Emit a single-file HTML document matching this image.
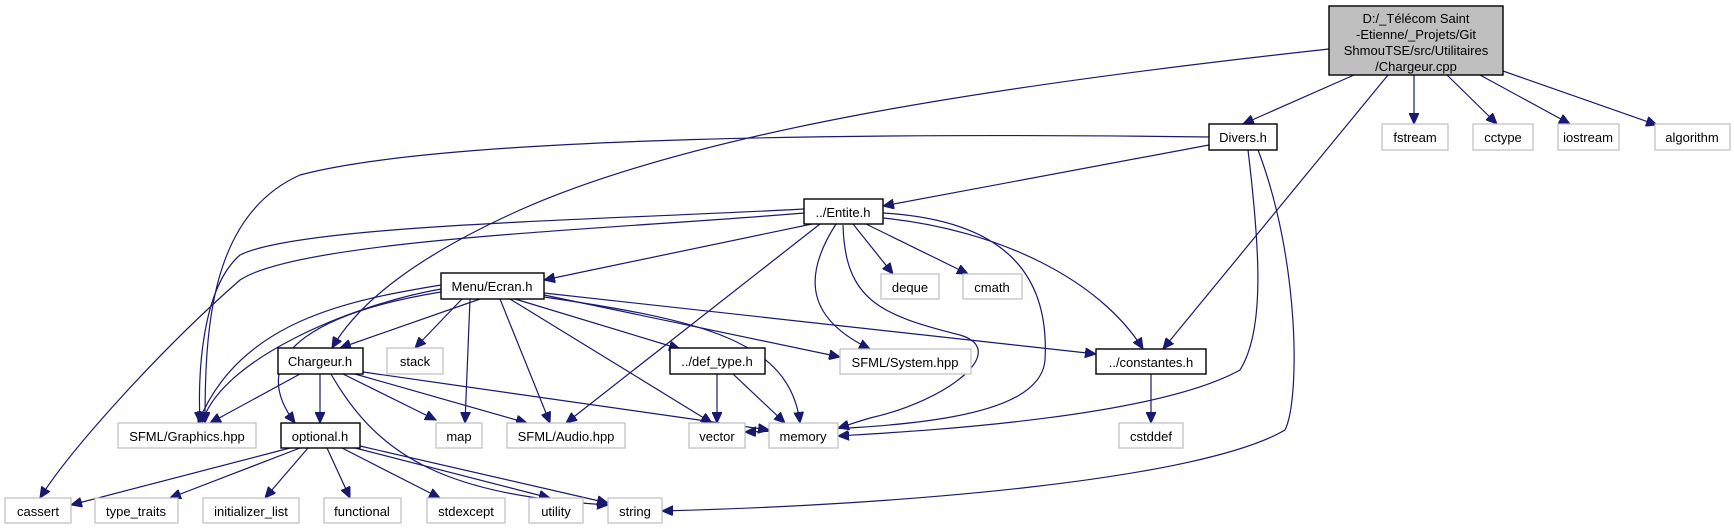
<!DOCTYPE html>
<html><head><meta charset="utf-8"><style>
html,body{margin:0;padding:0;background:#fff;}
svg{display:block}
text{font-family:"Liberation Sans",sans-serif;font-size:13px;fill:#000;}
.e{fill:none;stroke:#191970;stroke-width:1.2}
.n{fill:#fff;stroke:#000;stroke-width:1.4}
.g{fill:#fff;stroke:#bfbfbf;stroke-width:1.2}
</style></head><body>
<svg width="1734" height="529" viewBox="0 0 1734 529" xmlns="http://www.w3.org/2000/svg">
<defs><marker id="a" markerUnits="userSpaceOnUse" markerWidth="12" markerHeight="10" refX="11" refY="5" orient="auto"><path d="M0,0 L11,5 L0,10 z" fill="#191970" stroke="#191970"/></marker></defs>
<g class="e" marker-end="url(#a)">
<path d="M1354,75 L1243,124"/>
<path d="M1414,75 L1414,124"/>
<path d="M1447,75 L1497,124"/>
<path d="M1480,75 L1570,124"/>
<path d="M1503,71 L1657,125"/>
<path d="M1388,75 L1163,349"/>
<path d="M1329,49 C1000,85 700,130 520,210 C420,255 360,300 332,348"/>
<path d="M1209,145 L883,206"/>
<path d="M1209,137 C900,133 450,135 300,175 C210,215 205,330 205,423"/>
<path d="M1248,150 C1260,250 1265,330 1240,370 C1150,420 900,432 838,436"/>
<path d="M1258,150 C1300,260 1300,400 1285,430 C1200,480 900,505 662,511"/>
<path d="M812,224 L544,280"/>
<path d="M804,209 C600,220 300,225 240,255 C200,290 198,380 200,423"/>
<path d="M804,213 C600,230 300,240 240,280 C160,350 70,450 40,498"/>
<path d="M853,224 L893,274"/>
<path d="M866,224 L968,274"/>
<path d="M836,224 C800,280 810,320 870,349"/>
<path d="M843,225 C845,300 880,315 960,335 C1010,350 950,400 870,418 C850,424 845,426 838,428"/>
<path d="M883,213 C1000,220 1050,270 1045,360 C1040,420 900,428 745,432"/>
<path d="M883,218 C1000,230 1100,280 1143,349"/>
<path d="M820,224 L566,423"/>
<path d="M480,299 L340,348"/>
<path d="M462,299 L415,348"/>
<path d="M470,299 L465,423"/>
<path d="M500,299 L550,423"/>
<path d="M510,299 L712,423"/>
<path d="M515,299 L680,349"/>
<path d="M544,295 L840,357"/>
<path d="M544,293 L1096,354"/>
<path d="M544,297 C700,320 790,340 800,423"/>
<path d="M441,285 C350,300 240,320 198,423"/>
<path d="M441,289 C350,305 220,360 202,423"/>
<path d="M441,292 C330,310 240,350 295,423"/>
<path d="M300,374 L210,423"/>
<path d="M320,374 L320,423"/>
<path d="M343,374 L436,420"/>
<path d="M355,374 L527,423"/>
<path d="M363,372 L769,430"/>
<path d="M331,374 C380,460 450,495 608,505"/>
<path d="M717,374 L717,423"/>
<path d="M733,374 L785,423"/>
<path d="M1151,374 L1151,423"/>
<path d="M290,448 L71,505"/>
<path d="M300,448 L170,498"/>
<path d="M308,448 L265,498"/>
<path d="M327,448 L350,498"/>
<path d="M342,448 L440,498"/>
<path d="M355,448 L550,498"/>
<path d="M360,446 L608,503"/>
</g>
<rect x="1329" y="6" width="174" height="69" fill="#bfbfbf" stroke="#000" stroke-width="1.4"/>
<text x="1416" y="23" text-anchor="middle">D:/_Télécom Saint</text>
<text x="1416" y="39" text-anchor="middle">-Etienne/_Projets/Git</text>
<text x="1416" y="55" text-anchor="middle">ShmouTSE/src/Utilitaires</text>
<text x="1416" y="71" text-anchor="middle">/Chargeur.cpp</text>
<g>
<rect class="n" x="1209" y="124" width="68" height="26"/><text x="1243" y="142" text-anchor="middle">Divers.h</text>
<rect class="g" x="1382" y="124" width="66" height="26"/><text x="1415" y="142" text-anchor="middle">fstream</text>
<rect class="g" x="1473" y="124" width="60" height="26"/><text x="1503" y="142" text-anchor="middle">cctype</text>
<rect class="g" x="1558" y="124" width="61" height="26"/><text x="1588" y="142" text-anchor="middle">iostream</text>
<rect class="g" x="1655" y="124" width="75" height="26"/><text x="1692" y="142" text-anchor="middle">algorithm</text>
<rect class="n" x="804" y="199" width="79" height="25"/><text x="843" y="217" text-anchor="middle">../Entite.h</text>
<rect class="g" x="881" y="274" width="58" height="25"/><text x="910" y="292" text-anchor="middle">deque</text>
<rect class="g" x="963" y="274" width="59" height="25"/><text x="992" y="292" text-anchor="middle">cmath</text>
<rect class="n" x="441" y="273" width="103" height="26"/><text x="492" y="291" text-anchor="middle">Menu/Ecran.h</text>
<rect class="n" x="278" y="348" width="85" height="26"/><text x="320" y="366" text-anchor="middle">Chargeur.h</text>
<rect class="g" x="387" y="348" width="56" height="26"/><text x="415" y="366" text-anchor="middle">stack</text>
<rect class="n" x="670" y="348" width="95" height="26"/><text x="717" y="366" text-anchor="middle">../def_type.h</text>
<rect class="g" x="840" y="349" width="131" height="25"/><text x="905" y="367" text-anchor="middle">SFML/System.hpp</text>
<rect class="n" x="1096" y="349" width="110" height="25"/><text x="1151" y="367" text-anchor="middle">../constantes.h</text>
<rect class="g" x="118" y="423" width="138" height="25"/><text x="187" y="441" text-anchor="middle">SFML/Graphics.hpp</text>
<rect class="n" x="281" y="423" width="79" height="25"/><text x="320" y="441" text-anchor="middle">optional.h</text>
<rect class="g" x="436" y="423" width="46" height="25"/><text x="459" y="441" text-anchor="middle">map</text>
<rect class="g" x="507" y="423" width="118" height="25"/><text x="566" y="441" text-anchor="middle">SFML/Audio.hpp</text>
<rect class="g" x="689" y="423" width="56" height="25"/><text x="717" y="441" text-anchor="middle">vector</text>
<rect class="g" x="769" y="423" width="69" height="25"/><text x="803" y="441" text-anchor="middle">memory</text>
<rect class="g" x="1119" y="423" width="64" height="25"/><text x="1151" y="441" text-anchor="middle">cstddef</text>
<rect class="g" x="5" y="498" width="66" height="25"/><text x="38" y="516" text-anchor="middle">cassert</text>
<rect class="g" x="95" y="498" width="83" height="25"/><text x="136" y="516" text-anchor="middle">type_traits</text>
<rect class="g" x="203" y="498" width="96" height="25"/><text x="251" y="516" text-anchor="middle">initializer_list</text>
<rect class="g" x="324" y="498" width="77" height="25"/><text x="362" y="516" text-anchor="middle">functional</text>
<rect class="g" x="427" y="498" width="78" height="25"/><text x="466" y="516" text-anchor="middle">stdexcept</text>
<rect class="g" x="529" y="498" width="54" height="25"/><text x="556" y="516" text-anchor="middle">utility</text>
<rect class="g" x="608" y="498" width="54" height="25"/><text x="635" y="516" text-anchor="middle">string</text>
</g>
</svg>
</body></html>
